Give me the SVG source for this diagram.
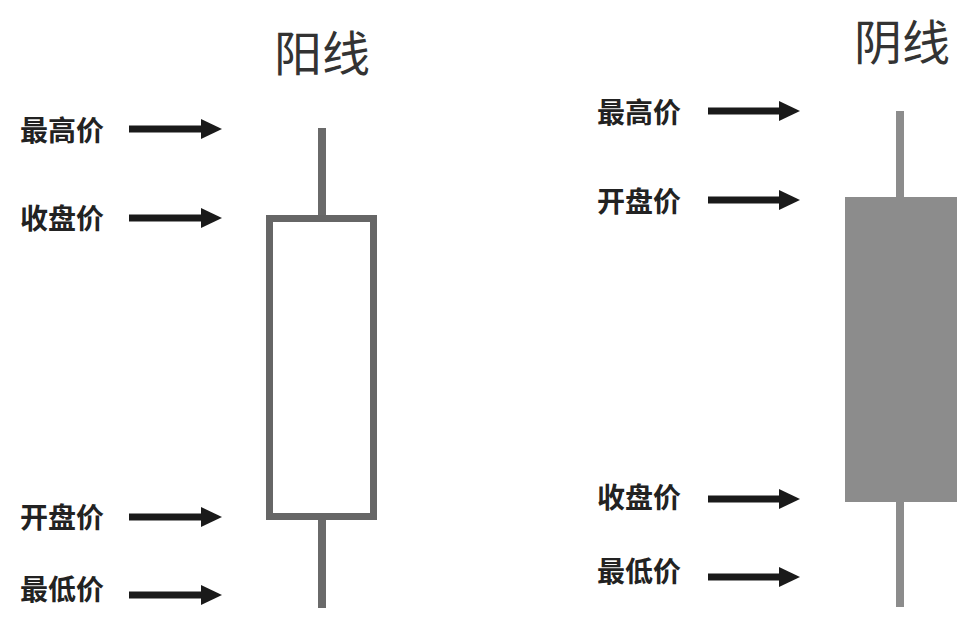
<svg xmlns="http://www.w3.org/2000/svg" width="973" height="626" viewBox="0 0 973 626">
<style>
.lbl{font-family:"Noto Sans CJK SC","Noto Sans",sans-serif;font-weight:bold;font-size:28px;fill:#222}
.ttl{font-family:"Noto Sans CJK SC","Noto Sans",sans-serif;font-size:48px;fill:#333;text-anchor:middle}
.arr{stroke:#1a1a1a;stroke-width:7;fill:none}
</style>
<defs>
<marker id="ah" markerUnits="userSpaceOnUse" markerWidth="22" markerHeight="22" refX="0" refY="10" orient="auto">
<path d="M0,0 L21,10 L0,20 z" fill="#1a1a1a"/>
</marker>
</defs>
<rect width="973" height="626" fill="#fff"/>
<g id="yang">
<text class="ttl" x="322" y="71">阳线</text>
<line x1="322" y1="128" x2="322" y2="608" stroke="#6a6a6a" stroke-width="8"/>
<rect x="269.5" y="218.5" width="104" height="298" fill="#fff" stroke="#666" stroke-width="7"/>
</g>
<g id="yin">
<text class="ttl" x="902" y="60">阴线</text>
<line x1="900" y1="111" x2="900" y2="607" stroke="#8c8c8c" stroke-width="8"/>
<rect x="845" y="197" width="112" height="305" fill="#8c8c8c"/>
</g>
<g id="labels-left">
<text class="lbl" x="20" y="141">最高价</text>
<text class="lbl" x="20" y="229">收盘价</text>
<text class="lbl" x="20" y="528">开盘价</text>
<text class="lbl" x="20" y="600">最低价</text>
</g>
<g id="labels-right">
<text class="lbl" x="597" y="123">最高价</text>
<text class="lbl" x="597" y="212">开盘价</text>
<text class="lbl" x="597" y="508">收盘价</text>
<text class="lbl" x="597" y="582">最低价</text>
</g>
<g id="connectors">
<line class="arr" x1="129" y1="129" x2="201" y2="129" marker-end="url(#ah)"/>
<line class="arr" x1="129" y1="218" x2="201" y2="218" marker-end="url(#ah)"/>
<line class="arr" x1="129" y1="517" x2="201" y2="517" marker-end="url(#ah)"/>
<line class="arr" x1="129" y1="595" x2="201" y2="595" marker-end="url(#ah)"/>
<line class="arr" x1="708" y1="111" x2="779" y2="111" marker-end="url(#ah)"/>
<line class="arr" x1="708" y1="200" x2="779" y2="200" marker-end="url(#ah)"/>
<line class="arr" x1="708" y1="499" x2="779" y2="499" marker-end="url(#ah)"/>
<line class="arr" x1="708" y1="577" x2="779" y2="577" marker-end="url(#ah)"/>
</g>
</svg>
